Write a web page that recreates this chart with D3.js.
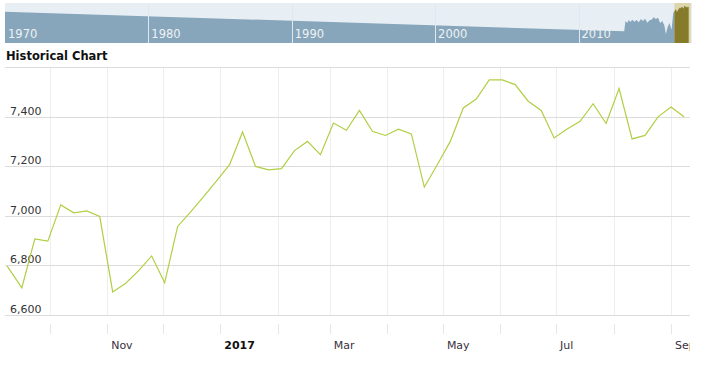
<!DOCTYPE html>
<html>
<head>
<meta charset="utf-8">
<script src="https://cdn.jsdelivr.net/npm/d3@7"></script>
<style>
  body { margin: 0; background: #fff; }
  svg { display: block; font-family: "DejaVu Sans", Verdana, sans-serif; }
</style>
</head>
<body>
<svg id="chart" width="703" height="380"></svg>
<script>
// weekly closes shown in the main chart
const dates = [
  "2016-09-08", "2016-09-16", "2016-09-23", "2016-09-30", "2016-10-07", "2016-10-14",
  "2016-10-21", "2016-10-28", "2016-11-04", "2016-11-11", "2016-11-18", "2016-11-25",
  "2016-12-02", "2016-12-09", "2016-12-16", "2016-12-23", "2016-12-30", "2017-01-06",
  "2017-01-13", "2017-01-20", "2017-01-27", "2017-02-03", "2017-02-10", "2017-02-17",
  "2017-02-24", "2017-03-03", "2017-03-10", "2017-03-17", "2017-03-24", "2017-03-31",
  "2017-04-07", "2017-04-14", "2017-04-21", "2017-04-28", "2017-05-05", "2017-05-12",
  "2017-05-19", "2017-05-26", "2017-06-02", "2017-06-09", "2017-06-16", "2017-06-23",
  "2017-06-30", "2017-07-07", "2017-07-14", "2017-07-21", "2017-07-28", "2017-08-04",
  "2017-08-11", "2017-08-18", "2017-08-25", "2017-09-01", "2017-09-08"
];
const closes = [
  6798, 6710, 6907, 6898, 7044, 7012, 7020, 6997, 6693, 6728,
  6779, 6838, 6730, 6957, 7016, 7077, 7141, 7206, 7338, 7199,
  7185, 7190, 7263, 7300, 7246, 7374, 7345, 7425, 7341, 7324,
  7349, 7330, 7116, 7206, 7300, 7435, 7471, 7548, 7548, 7529,
  7462, 7425, 7314, 7350, 7381, 7452, 7372, 7513, 7310, 7324,
  7399, 7439, 7399
];
const yTicks = [6600, 6800, 7000, 7200, 7400, 7600];

// older history for the navigator strip
const navDates = [
  "1970-01-01", "2013-03-10", "2013-04-10", "2013-05-25", "2013-07-01", "2013-08-15",
  "2013-10-01", "2013-11-25", "2014-01-20", "2014-03-15", "2014-05-10", "2014-07-01",
  "2014-08-25", "2014-10-20", "2014-12-15", "2015-02-05", "2015-04-01", "2015-05-25",
  "2015-07-20", "2015-09-10", "2015-11-05", "2015-12-30", "2016-02-05", "2016-03-15",
  "2016-05-05", "2016-06-28", "2016-08-10"
];
const navValues = [
  6700, 3750, 5300, 5000, 5450, 5150,
  5500, 5200, 5450, 5100, 5600, 5300,
  5650, 5050, 5400, 5500, 5850, 5600,
  5800, 5000, 5300, 4600, 3300, 4300,
  5000, 4000, 6500
];
const navYears = ["1970", "1980", "1990", "2000", "2010"];

const svg = d3.select("#chart");
const parse = d3.timeParse("%Y-%m-%d");

const series = dates.map((d, i) => ({ date: parse(d), value: closes[i] }));
const navSeries = navDates.map((d, i) => ({ date: parse(d), value: navValues[i] }));

// ---- navigator ----
const navTop = 3, navBottom = 43, navLeft = 5, navRight = 692;
const nx = d3.scaleTime()
  .domain([parse("1970-01-01"), parse("2017-12-01")])
  .range([navLeft, navRight]);
const ny = d3.scaleLinear().domain([2000, 8000]).range([navBottom, navTop]);

svg.append("rect")
  .attr("x", navLeft).attr("y", navTop)
  .attr("width", navRight - navLeft).attr("height", navBottom - navTop)
  .attr("fill", "#e7eff5");

// selected range background
const selStart = series[0].date, selEnd = series[series.length - 1].date;
svg.append("rect")
  .attr("x", nx(selStart)).attr("y", navTop)
  .attr("width", nx(selEnd) - nx(selStart) + 2).attr("height", navBottom - navTop)
  .attr("fill", "#ddd6ab");

const navArea = d3.area()
  .x(d => nx(d.date))
  .y0(navBottom)
  .y1(d => ny(d.value));

svg.append("path")
  .datum(navSeries.concat([series[0]]))
  .attr("d", navArea)
  .attr("fill", "#87a6bb");

svg.append("path")
  .datum(series)
  .attr("d", navArea)
  .attr("fill", "#857b2b");

svg.selectAll(".navline")
  .data(navYears.slice(1))
  .join("line")
  .attr("x1", d => Math.round(nx(parse(d + "-01-01"))) + 0.5)
  .attr("x2", d => Math.round(nx(parse(d + "-01-01"))) + 0.5)
  .attr("y1", navTop).attr("y2", navBottom)
  .attr("stroke", "#dfe8ee")
  .attr("stroke-width", 1);

svg.selectAll(".navlabel")
  .data(navYears)
  .join("text")
  .attr("x", d => nx(parse(d + "-01-01")) + 3)
  .attr("y", 38)
  .attr("font-size", 11.5)
  .attr("fill", "#eef2f5")
  .text(d => d);

// ---- title ----
svg.append("text")
  .attr("x", 6).attr("y", 60)
  .attr("font-size", 11.5)
  .attr("font-weight", "bold")
  .attr("fill", "#111")
  .text("Historical Chart");

// ---- main chart ----
const plotLeft = 5, plotRight = 690, plotTop = 67, plotBottom = 315;
const x = d3.scaleTime()
  .domain([parse("2016-09-08"), parse("2017-09-08")])
  .range([7, 684]);
const y = d3.scaleLinear().domain([6600, 7600]).range([plotBottom, plotTop]);

const months = d3.timeMonth.range(parse("2016-09-02"), parse("2017-09-08"));

// vertical grid
svg.selectAll(".vgrid")
  .data(months)
  .join("line")
  .attr("x1", d => Math.round(x(d)) + 0.5)
  .attr("x2", d => Math.round(x(d)) + 0.5)
  .attr("y1", plotTop).attr("y2", plotBottom)
  .attr("stroke", "#eeeeee");

// tick marks below plot
svg.selectAll(".xtick")
  .data(months)
  .join("line")
  .attr("x1", d => Math.round(x(d)) + 0.5)
  .attr("x2", d => Math.round(x(d)) + 0.5)
  .attr("y1", 324).attr("y2", 334)
  .attr("stroke", "#e6e6e6");

// horizontal grid
svg.selectAll(".hgrid")
  .data(yTicks)
  .join("line")
  .attr("x1", plotLeft).attr("x2", plotRight)
  .attr("y1", d => Math.round(y(d)) + 0.5)
  .attr("y2", d => Math.round(y(d)) + 0.5)
  .attr("stroke", "#dcdcdc");

// y labels above the grid lines
svg.selectAll(".ylabel")
  .data(yTicks.filter(d => d < 7600))
  .join("text")
  .attr("x", 10)
  .attr("y", d => y(d) - 2)
  .attr("font-size", 11)
  .attr("fill", "#333")
  .text(d => d3.format(",")(d));

// x labels, every other month
svg.append("clipPath").attr("id", "xclip")
  .append("rect").attr("x", 0).attr("y", 330).attr("width", plotRight).attr("height", 40);

svg.append("g")
  .attr("clip-path", "url(#xclip)")
  .selectAll("text")
  .data(months.filter(d => d.getMonth() % 2 === 0))
  .join("text")
  .attr("x", d => x(d) + 4)
  .attr("y", 349)
  .attr("font-size", 11)
  .attr("font-weight", d => d.getMonth() === 0 ? "bold" : "normal")
  .attr("fill", d => d.getMonth() === 0 ? "#111" : "#3a3040")
  .text(d => d.getMonth() === 0 ? d3.timeFormat("%Y")(d) : d3.timeFormat("%b")(d));

const line = d3.line()
  .x(d => x(d.date))
  .y(d => y(d.value));

svg.append("path")
  .datum(series)
  .attr("d", line)
  .attr("fill", "none")
  .attr("stroke", "#b0cf44")
  .attr("stroke-width", 1.2);
</script>
</body>
</html>
